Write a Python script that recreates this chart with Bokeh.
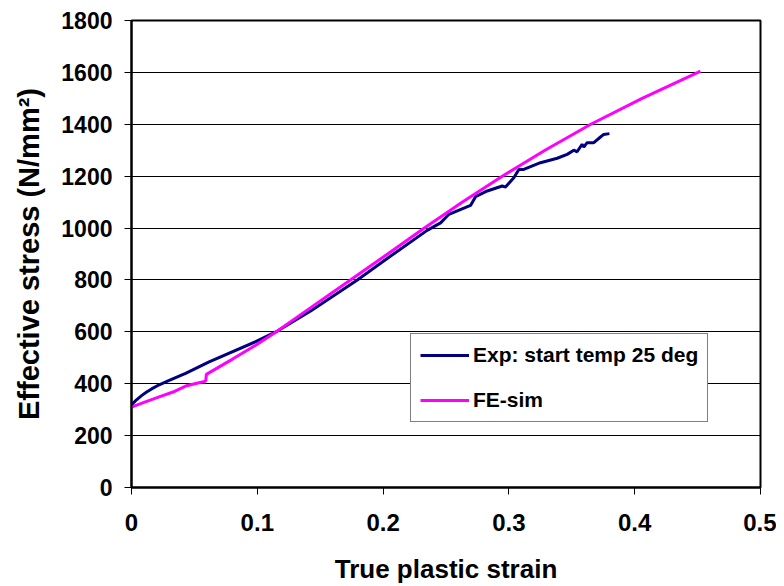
from bokeh.plotting import figure
from bokeh.models import FixedTicker, Range1d, Legend, LegendItem
from bokeh.embed import file_html
from bokeh.resources import INLINE

# ---- data ----
exp_strain = [0.0, 0.004, 0.008, 0.012, 0.016, 0.022, 0.03, 0.043, 0.0617,
              0.0987, 0.116, 0.1424, 0.1795, 0.206, 0.235, 0.2457, 0.2523,
              0.2695, 0.2735, 0.2828, 0.2947, 0.2973, 0.3039, 0.3079, 0.3118,
              0.3251, 0.3384, 0.3463, 0.3516, 0.3542, 0.3582, 0.3595, 0.3622,
              0.3675, 0.3728, 0.3754, 0.3799]
exp_stress = [318, 338, 354, 368, 380, 396, 413, 440, 484,
              562, 603, 680, 800, 892, 991, 1020, 1053,
              1087, 1121, 1143, 1162, 1158, 1194, 1226, 1226,
              1252, 1269, 1284, 1300, 1294, 1323, 1312, 1329,
              1329, 1351, 1361, 1364]

fe_strain = [0.0, 0.011, 0.022, 0.033, 0.043, 0.052, 0.059, 0.0595, 0.08,
             0.0987, 0.116, 0.145, 0.174, 0.2036, 0.2328, 0.2631, 0.2947,
             0.3287, 0.3651, 0.4059, 0.4503, 0.4522]
fe_stress = [310, 330, 349, 368, 391, 402, 410, 436, 494,
             548, 603, 702, 800, 900, 1000, 1100, 1200,
             1300, 1400, 1500, 1600, 1605]

x_ticks = [0, 0.1, 0.2, 0.3, 0.4, 0.5]
x_tick_labels = ["0", "0.1", "0.2", "0.3", "0.4", "0.5"]
y_ticks = [0, 200, 400, 600, 800, 1000, 1200, 1400, 1600, 1800]

series_names = ["Exp: start temp 25 deg", "FE-sim"]
series_colors = ["#000080", "#FF00FF"]

FONT = "Liberation Sans"

p = figure(width=776, height=586, output_backend="svg", toolbar_location=None,
           x_range=Range1d(0, 0.5), y_range=Range1d(0, 1800),
           min_border_left=131, min_border_right=16, min_border_top=20,
           min_border_bottom=99)
p.background_fill_color = "white"
p.border_fill_color = "white"
p.outline_line_color = "black"
p.outline_line_width = 2

r_exp = p.line(exp_strain, exp_stress, line_color=series_colors[0], line_width=3)
r_fe = p.line(fe_strain, fe_stress, line_color=series_colors[1], line_width=3)

p.xgrid.visible = False
p.ygrid.ticker = FixedTicker(ticks=y_ticks)
p.ygrid.grid_line_color = "black"
p.ygrid.grid_line_width = 1

for ax in (p.xaxis[0], p.yaxis[0]):
    ax.axis_line_color = "black"
    ax.axis_line_width = 2
    ax.major_tick_line_color = "black"
    ax.major_tick_line_width = 1
    ax.major_tick_in = 0
    ax.major_tick_out = 7
    ax.minor_tick_line_color = None
    ax.major_label_text_font = FONT
    ax.major_label_text_font_style = "bold"
    ax.major_label_text_color = "black"
    ax.axis_label_text_font = FONT
    ax.axis_label_text_font_style = "bold"
    ax.axis_label_text_color = "black"

p.xaxis.ticker = FixedTicker(ticks=x_ticks)
p.xaxis.major_label_overrides = {t: l for t, l in zip(x_ticks, x_tick_labels)}
p.yaxis.ticker = FixedTicker(ticks=y_ticks)

p.xaxis.major_label_text_font_size = "24px"
p.yaxis.major_label_text_font_size = "23px"
p.xaxis.axis_label = "True plastic strain"
p.yaxis.axis_label = "Effective stress (N/mm\u00b2)"
p.xaxis.axis_label_text_font_size = "26px"
p.yaxis.axis_label_text_font_size = "29px"
p.xaxis.major_label_standoff = 19
p.yaxis.major_label_standoff = 12
p.xaxis.axis_label_standoff = 20
p.yaxis.axis_label_standoff = 13

legend = Legend(items=[LegendItem(label=series_names[0], renderers=[r_exp]),
                       LegendItem(label=series_names[1], renderers=[r_fe])],
                location=(279, 65))
legend.border_line_color = "black"
legend.border_line_width = 1
legend.background_fill_color = "white"
legend.background_fill_alpha = 1
legend.padding = 9
legend.spacing = 21
legend.glyph_width = 49
legend.glyph_height = 20
legend.label_height = 20
legend.label_standoff = 4
legend.label_text_font = FONT
legend.label_text_font_style = "bold"
legend.label_text_font_size = "21px"
legend.label_text_color = "black"
legend.margin = 0
p.add_layout(legend, "center")

open("out.html", "w").write(file_html(p, INLINE))
